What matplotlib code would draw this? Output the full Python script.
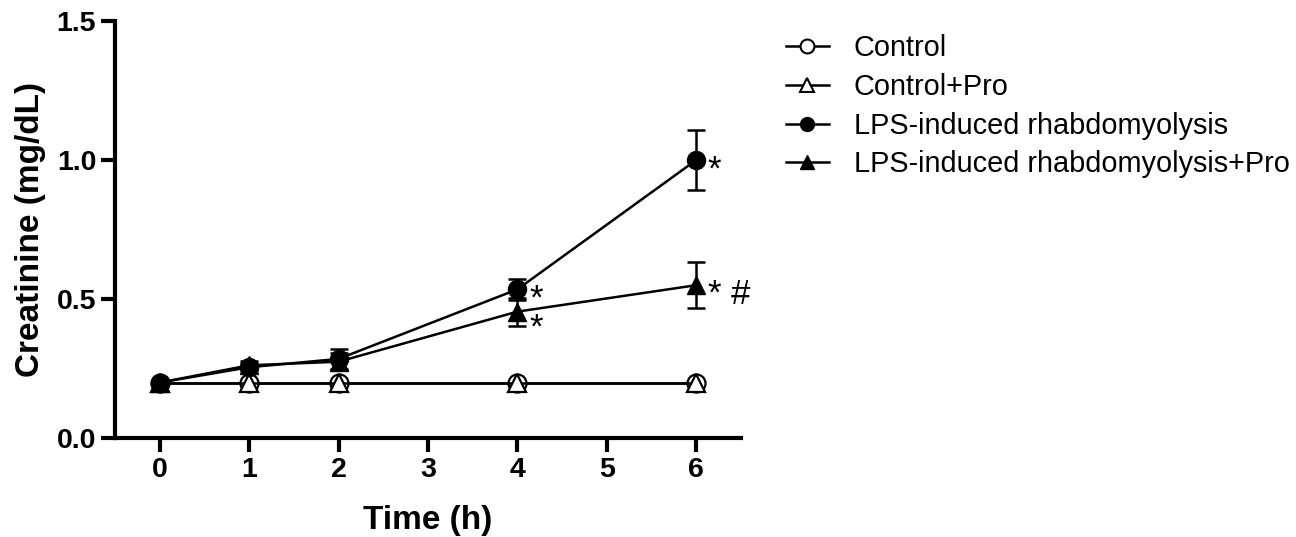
import numpy as np
import matplotlib.pyplot as plt
from matplotlib.lines import Line2D

plt.rcParams['font.family'] = ['Liberation Sans', 'DejaVu Sans']

time_h = [0, 1, 2, 4, 6]
control = [0.20, 0.20, 0.20, 0.20, 0.20]
control_pro = [0.20, 0.20, 0.20, 0.20, 0.20]
lps = [0.20, 0.255, 0.285, 0.535, 1.00]
lps_err = [0.01, 0.015, 0.035, 0.037, 0.107]
lps_pro = [0.20, 0.262, 0.275, 0.455, 0.55]
lps_pro_err = [0.01, 0.015, 0.03, 0.05, 0.083]

labels = ['Control', 'Control+Pro', 'LPS-induced rhabdomyolysis',
          'LPS-induced rhabdomyolysis+Pro']

# significance marks: (x, y, text)
marks = [(4, lps[3], '*'), (4, lps_pro[3], '*'),
         (6, lps[4], '*'), (6, lps_pro[4], '* #')]
mark_dy = [-0.035, -0.06, -0.035, -0.035]

fig = plt.figure(figsize=(12.96, 5.37), dpi=100)
ax = fig.add_axes([0.0887, 0.184, 0.483, 0.777])

ms = 13
common = dict(color='black', lw=1.8, capsize=6.5, elinewidth=1.8, capthick=1.8)
ax.errorbar(time_h, control, marker='o', ms=ms, mfc='white', mec='black',
            mew=1.6, **common)
ax.errorbar(time_h, control_pro, marker='^', ms=ms, mfc='white', mec='black',
            mew=1.6, **common)
ax.errorbar(time_h, lps, yerr=lps_err, marker='o', ms=ms, mfc='black',
            mec='black', **common)
ax.errorbar(time_h, lps_pro, yerr=lps_pro_err, marker='^', ms=ms, mfc='black',
            mec='black', **common)

for (x, y, t), dy in zip(marks, mark_dy):
    ax.text(x + 0.13, y + dy, t, fontsize=25, va='center', ha='left')

ax.set_xlim(-0.5, 6.5)
ax.set_ylim(0, 1.5)
ax.set_xticks(range(0, 7))
ax.set_yticks([0.0, 0.5, 1.0, 1.5])
ax.set_yticklabels(['0.0', '0.5', '1.0', '1.5'])
for s in ['top', 'right']:
    ax.spines[s].set_visible(False)
for s in ['left', 'bottom']:
    ax.spines[s].set_linewidth(3)
ax.tick_params(width=3, length=10, labelsize=20.5, direction='out')
for lab in ax.get_xticklabels() + ax.get_yticklabels():
    lab.set_fontweight('bold')
ax.set_xlabel('Time (h)', fontsize=24, fontweight='bold', labelpad=16)
ax.set_ylabel('Creatinine (mg/dL)', fontsize=24, fontweight='bold', labelpad=8)

handles = [
    Line2D([], [], color='black', lw=1.8, marker='o', ms=10, mfc='white', mew=1.5),
    Line2D([], [], color='black', lw=1.8, marker='^', ms=10, mfc='white', mew=1.5),
    Line2D([], [], color='black', lw=1.8, marker='o', ms=10, mfc='black'),
    Line2D([], [], color='black', lw=1.8, marker='^', ms=10, mfc='black'),
]
ax.legend(handles, labels, loc='upper left', bbox_to_anchor=(1.03, 1.03),
          frameon=False, fontsize=20.8, handlelength=1.5, labelspacing=0.37,
          handletextpad=0.85)

fig.savefig('out.png', dpi=100)
